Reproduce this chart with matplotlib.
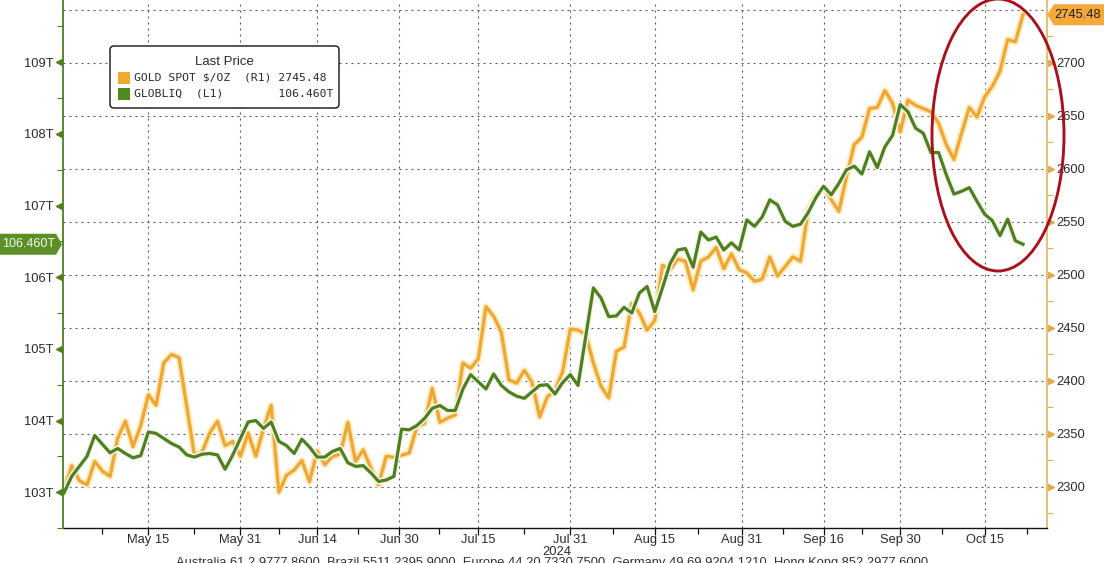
import numpy as np
import pandas as pd
import matplotlib
matplotlib.use("Agg")
import matplotlib.pyplot as plt
import matplotlib.patheffects as pe
import matplotlib.transforms as mtransforms
from matplotlib.patches import Polygon, Ellipse, FancyBboxPatch, Rectangle

plt.rcParams['font.family'] = ['Liberation Sans', 'DejaVu Sans']

# business days, Apr 30 -> Oct 22 2024
dates = pd.bdate_range("2024-04-30", "2024-10-22")

gold = [2296, 2320, 2306, 2302, 2324, 2315, 2310, 2346, 2362, 2338,
        2358, 2387, 2377, 2417, 2425, 2422, 2376, 2330, 2333, 2351,
        2362, 2339, 2343, 2329, 2351, 2329, 2355, 2377, 2295, 2311,
        2316, 2325, 2305, 2334, 2321, 2329, 2331, 2361, 2324, 2335,
        2318, 2302, 2329, 2328, 2330, 2332, 2357, 2360, 2393, 2361,
        2365, 2368, 2417, 2412, 2421, 2470, 2461, 2446, 2401, 2398,
        2410, 2399, 2366, 2385, 2391, 2409, 2449, 2448, 2444, 2417,
        2395, 2384, 2428, 2432, 2473, 2464, 2448, 2457, 2509, 2505,
        2515, 2513, 2486, 2513, 2517, 2526, 2506, 2520, 2505, 2502,
        2494, 2496, 2517, 2499, 2508, 2517, 2513, 2561, 2575, 2583,
        2571, 2560, 2593, 2623, 2630, 2657, 2658, 2674, 2662, 2635,
        2665, 2660, 2657, 2654, 2643, 2623, 2609, 2634, 2658, 2649,
        2668, 2678, 2692, 2722, 2720, 2745.48]

globliq = [102.99, 103.22, 103.36, 103.50, 103.79, 103.67, 103.55, 103.61, 103.54, 103.48,
           103.51, 103.84, 103.82, 103.75, 103.68, 103.63, 103.52, 103.49, 103.53, 103.54,
           103.52, 103.32, 103.52, 103.75, 103.98, 104.00, 103.89, 103.98, 103.71, 103.65,
           103.54, 103.74, 103.63, 103.49, 103.49, 103.57, 103.61, 103.41, 103.36, 103.37,
           103.27, 103.15, 103.17, 103.22, 103.88, 103.87, 103.93, 104.03, 104.17, 104.21,
           104.14, 104.14, 104.44, 104.64, 104.54, 104.44, 104.65, 104.49, 104.40, 104.34,
           104.31, 104.40, 104.49, 104.50, 104.37, 104.53, 104.64, 104.49, 105.17, 105.85,
           105.71, 105.45, 105.46, 105.58, 105.50, 105.78, 105.87, 105.52, 105.85, 106.19,
           106.38, 106.40, 106.14, 106.63, 106.52, 106.56, 106.38, 106.48, 106.38, 106.80,
           106.71, 106.84, 107.08, 107.01, 106.78, 106.71, 106.74, 106.90, 107.11, 107.27,
           107.15, 107.31, 107.50, 107.55, 107.44, 107.75, 107.53, 107.82, 107.98, 108.41,
           108.31, 108.08, 108.01, 107.74, 107.74, 107.43, 107.16, 107.20, 107.25, 107.06,
           106.88, 106.79, 106.58, 106.81, 106.51, 106.460]

tick_dates = ["2024-05-15", "2024-05-31", "2024-06-14", "2024-06-30", "2024-07-15",
              "2024-07-31", "2024-08-15", "2024-08-31", "2024-09-16", "2024-09-30",
              "2024-10-15"]
tick_labels = ["May 15", "May 31", "Jun 14", "Jun 30", "Jul 15", "Jul 31",
               "Aug 15", "Aug 31", "Sep 16", "Sep 30", "Oct 15"]
left_ticks = [103, 104, 105, 106, 107, 108, 109]
right_ticks = [2300, 2350, 2400, 2450, 2500, 2550, 2600, 2650, 2700, 2750]

footer = ("Australia 61 2 9777 8600  Brazil 5511 2395 9000  Europe 44 20 7330 7500  "
          "Germany 49 69 9204 1210  Hong Kong 852 2977 6000")

W, H = 1104, 563
GOLD = "#EFA632"
GREEN = "#4F7F1F"
TXT = "#2a2a2a"

x = np.arange(len(dates))
dnum = dates.values.astype("int64")
tick_pos = np.interp(pd.to_datetime(tick_dates).values.astype("int64"), dnum, x)
minor_pos = list((tick_pos[:-1] + tick_pos[1:]) / 2)
minor_pos = [tick_pos[0] - (tick_pos[1] - tick_pos[0]) / 2] + minor_pos + \
            [tick_pos[-1] + (tick_pos[-1] - tick_pos[-2]) / 2]

fig = plt.figure(figsize=(W / 100, H / 100), dpi=100)
fig.patch.set_facecolor("white")
ax_g = fig.add_axes([63 / W, 35 / H, 984 / W, 528 / H])
ax_l = ax_g.twinx()

# gold on right axis (main axes, carries grid + x axis), green drawn on top
ax_g.plot(x, gold, color=GOLD, lw=2.3, solid_joinstyle="round",
          path_effects=[pe.Stroke(linewidth=5, foreground="#fcebbd"), pe.Normal()])
ax_l.plot(x, globliq, color=GREEN, lw=2.3, solid_joinstyle="round",
          path_effects=[pe.Stroke(linewidth=4.5, foreground="#f4f7ee"), pe.Normal()])

k = (1023 - 64) / (len(x) - 1)
ax_g.set_xlim(-1 / k, (len(x) - 1) + 24 / k)
ax_g.set_ylim(2261.3, 2759.4)
ax_l.set_ylim(102.586, 109.869)

ax_g.yaxis.tick_right()
ax_l.yaxis.tick_left()
ax_g.set_yticks(right_ticks)
ax_g.set_yticks(np.arange(2275, 2760, 50), minor=True)
ax_l.set_yticks(left_ticks)
ax_l.set_yticks(np.arange(102.5, 110, 1.0), minor=True)
ax_l.set_yticklabels([f"{v}T" for v in left_ticks])
# top label sits under the last-price tag
ax_g.set_yticklabels([str(v) if v < 2750 else "" for v in right_ticks])

ax_g.set_xticks(tick_pos)
ax_g.set_xticklabels(tick_labels)
ax_g.set_xticks(minor_pos, minor=True)

ax_g.tick_params(axis="x", which="major", length=5, width=0.9, color="#111", pad=-1,
                 labelsize=9.3, labelcolor=TXT)
ax_g.tick_params(axis="x", which="minor", length=4, width=0.9, color="#111")
ax_g.tick_params(axis="y", which="major", length=0, pad=7, labelsize=9.3, labelcolor=TXT)
ax_g.tick_params(axis="y", which="minor", length=4, width=0.8, color="#d9b25a")
ax_l.tick_params(axis="y", which="major", length=0, pad=7, labelsize=9.3, labelcolor=TXT)
ax_l.tick_params(axis="y", which="minor", length=4, width=0.8, color=GREEN)

ax_g.grid(True, which="major", color="#555555", linestyle=(0, (1.8, 3.6)), linewidth=0.8)

for s in ["top", "left"]:
    ax_g.spines[s].set_visible(False)
ax_g.spines["right"].set_color("#dcb860")
ax_g.spines["right"].set_linewidth(1.2)
ax_g.spines["bottom"].set_color("#111")
ax_g.spines["bottom"].set_linewidth(1.0)
for s in ["top", "right", "bottom"]:
    ax_l.spines[s].set_visible(False)
ax_l.spines["left"].set_color(GREEN)
ax_l.spines["left"].set_linewidth(1.3)

# triangle tick marks
tr_l = mtransforms.blended_transform_factory(ax_l.transAxes, ax_l.transData) + \
    mtransforms.ScaledTranslation(-0.035, 0, fig.dpi_scale_trans)
ax_l.plot(np.zeros(len(left_ticks)), left_ticks, ls="none", marker="<", ms=5,
          color=GREEN, transform=tr_l, clip_on=False)
tr_r = mtransforms.blended_transform_factory(ax_g.transAxes, ax_g.transData) + \
    mtransforms.ScaledTranslation(0.035, 0, fig.dpi_scale_trans)
ax_g.plot(np.ones(len(right_ticks) - 1), right_ticks[:-1], ls="none", marker=">", ms=5,
          color="#e3a94a", transform=tr_r, clip_on=False)

fig.text(557 / W, 1 - 552 / H, "2024", ha="center", va="center", fontsize=9.3, color=TXT)
# footer is cropped by the bottom edge in the source image
fig.text(552 / W, 1 - 566 / H, footer, ha="center", va="baseline", fontsize=9.3, color="#333")

# legend box (pixel coordinates)
def P(px, py):
    return (px, H - py)

box = FancyBboxPatch(P(110, 108), 229, 62, boxstyle="round,pad=0,rounding_size=4",
                     transform=None, facecolor="white", edgecolor="#111", lw=1.0, zorder=4)
fig.add_artist(box)
fig.text(224 / W, 1 - 62 / H, "Last Price", ha="center", va="center", fontsize=9.5,
         color=TXT, zorder=5)
fig.add_artist(Rectangle(P(118, 84), 12, 12, transform=None, facecolor="#F2A92E",
                         edgecolor="none", zorder=5))
fig.add_artist(Rectangle(P(118, 100), 12, 12, transform=None, facecolor="#4E8A1E",
                         edgecolor="none", zorder=5))
fig.text(134 / W, 1 - 78 / H, f"GOLD SPOT $/OZ  (R1) {gold[-1]:.2f}", ha="left",
         va="center", fontsize=8.2, family="DejaVu Sans Mono", color=TXT, zorder=5)
fig.text(134 / W, 1 - 94 / H, f"GLOBLIQ  (L1)        {globliq[-1]:.3f}T", ha="left",
         va="center", fontsize=8.2, family="DejaVu Sans Mono", color=TXT, zorder=5)

# last value tags
fig.canvas.draw()
yl = ax_l.transData.transform((0, globliq[-1]))[1]
yr = ax_g.transData.transform((0, gold[-1]))[1]
fig.add_artist(Polygon([(0, yl - 10.5), (56, yl - 10.5), (62, yl), (56, yl + 10.5), (0, yl + 10.5)],
                       closed=True, transform=None, facecolor="#5C9027", edgecolor="none", zorder=6))
fig.text(29 / W, yl / H, f"{globliq[-1]:.3f}T", ha="center", va="center", fontsize=9,
         color="#f4f6ee", zorder=7)
fig.add_artist(Polygon([(1047, yr), (1054, yr - 10.5), (1104, yr - 10.5), (1104, yr + 10.5),
                        (1054, yr + 10.5)], closed=True, transform=None,
                       facecolor="#F4A93A", edgecolor="none", zorder=6))
fig.text(1078 / W, yr / H, f"{gold[-1]:.2f}", ha="center", va="center", fontsize=9.3,
         color="#222", zorder=7)

# red highlight ellipse
fig.add_artist(Ellipse((998, H - 135), 132, 272, transform=None, facecolor="none",
                       edgecolor="#A8121E", lw=2.1, zorder=8))

fig.savefig("out.png", dpi=100)
